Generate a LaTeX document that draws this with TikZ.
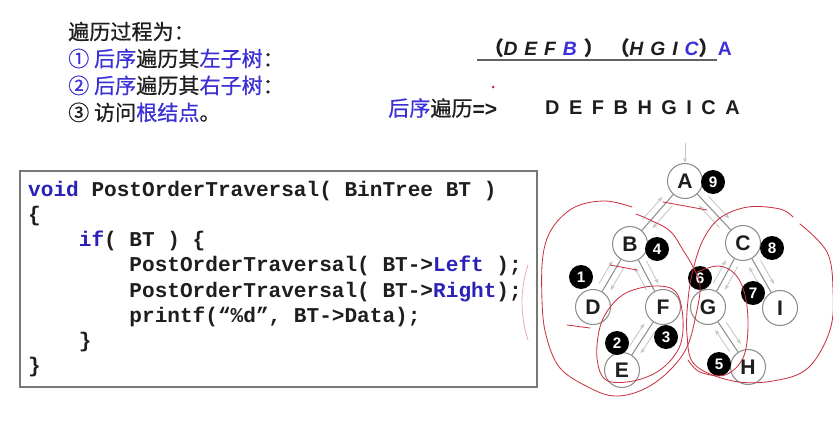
\documentclass[tikz,border=0pt]{standalone}
\usepackage{fontspec}
\setmainfont{Liberation Sans}
\setmonofont{Liberation Mono}
\newfontfamily\cjk[FakeBold=0.6]{Noto Sans CJK SC}
\usetikzlibrary{arrows.meta,calc}
\definecolor{hint}{HTML}{3B2FD6}
\definecolor{kw}{HTML}{2A22B8}
\definecolor{ink}{HTML}{1E1E1E}
\definecolor{wire}{HTML}{8E8E8E}
\definecolor{walkgray}{HTML}{C4C4C4}
\definecolor{penred}{HTML}{C8303F}
\newcommand\ind{\hphantom{0000}}
% one arrow down along each edge, one back up on the other side
\newcommand\walkpair[2]{%
  \draw[walk] ($(#1)!0.32!(#2)!0.2cm!90:(#2)$) -- ($(#1)!0.68!(#2)!0.2cm!90:(#2)$);
  \draw[walk] ($(#2)!0.32!(#1)!0.2cm!90:(#1)$) -- ($(#2)!0.68!(#1)!0.2cm!90:(#1)$);}

\begin{document}
\begin{tikzpicture}[
  x=0.03cm,y=-0.03cm,
  every node/.style={inner sep=0pt,text=ink},
  tnode/.style={circle,draw=wire,fill=white,line width=0.9pt,minimum size=1.05cm,font=\fontsize{18}{18}\selectfont\bfseries},
  stepno/.style={circle,fill=black,minimum size=0.72cm,text=white,font=\fontsize{13}{13}\selectfont\bfseries},
  link/.style={draw=wire,line width=0.9pt},
  walk/.style={-{Stealth[length=1.6mm]},draw=walkgray,line width=0.7pt},
  pen/.style={draw=penred,line width=0.7pt,line cap=round},
  code/.style={align=left,font=\ttfamily\bfseries\fontsize{18}{21.5}\selectfont}
]
\useasboundingbox (0,0) rectangle (833,448);

% left: the three steps
\node[anchor=west,align=left,font=\cjk\fontsize{18}{23}\selectfont] (steps) at (68,72) {%
遍历过程为：\\
\textcolor{hint}{① 后序}遍历其\textcolor{hint}{左子树}：\\
\textcolor{hint}{② 后序}遍历其\textcolor{hint}{右子树}：\\
③ 访问\textcolor{hint}{根结点}。};

% right: grouping and result
\node[anchor=base west,font=\bfseries\itshape\fontsize{16.5}{16.5}\selectfont\addfontfeature{LetterSpace=8}] (split) at (484,55)
  {{\cjk （}D E F \textcolor{hint}{B} {\cjk ）}\ {\cjk （}H G I \textcolor{hint}{C}{\cjk ）}\textcolor{hint}{\upshape A}};
\draw[draw=ink!70,line width=0.9pt] (477,60) -- (717,60);
\fill[penred] (493,87) circle (1.5);
\node[anchor=west,font=\fontsize{18}{18}\selectfont] (postlbl) at (388,108)
  {{\cjk\textcolor{hint}{后序}遍历}\textbf{=>}};
\node[anchor=west,font=\bfseries\fontsize{17}{17}\selectfont\addfontfeature{LetterSpace=20}] (seq) at (545,108)
  {D E F B H G I C A};

% code box
\draw[draw=ink!60,line width=1.1pt] (20,171) rectangle (537,387);
\node[code,anchor=west] (src) at (28,279) {%
\textcolor{kw}{void} PostOrderTraversal( BinTree BT )\\
\{\\
\ind\textcolor{kw}{if}( BT ) \{\\
\ind\ind PostOrderTraversal( BT->\textcolor{kw}{Left} );\\
\ind\ind PostOrderTraversal( BT->\textcolor{kw}{Right});\\
\ind\ind printf(“\%d”, BT->Data);\\
\ind\}\\
\}};

% tree
\node[tnode] (A) at (685,181) {A};
\node[tnode] (B) at (630,244) {B};
\node[tnode] (C) at (743,243) {C};
\node[tnode] (D) at (593,307) {D};
\node[tnode] (F) at (663,307) {F};
\node[tnode] (E) at (622,370) {E};
\node[tnode] (G) at (708,307) {G};
\node[tnode] (I) at (780,308) {I};
\node[tnode] (H) at (748,367) {H};
\draw[link] (A) -- (B);
\draw[link] (A) -- (C);
\draw[link] (B) -- (D);
\draw[link] (B) -- (F);
\draw[link] (F) -- (E);
\draw[link] (C) -- (G);
\draw[link] (C) -- (I);
\draw[link] (G) -- (H);
\walkpair{A}{B}
\walkpair{A}{C}
\walkpair{B}{D}
\walkpair{B}{F}
\walkpair{F}{E}
\walkpair{C}{G}
\walkpair{C}{I}
\walkpair{G}{H}
\coordinate (entry) at (685,143);
\draw[walk] (entry) -- (A);

% visiting order
\node[stepno] (s1) at (581,277) {1};
\node[stepno] (s2) at (617,343) {2};
\node[stepno] (s3) at (666,337) {3};
\node[stepno] (s4) at (657,249) {4};
\node[stepno] (s5) at (719,364) {5};
\node[stepno] (s6) at (700,278) {6};
\node[stepno] (s7) at (753,293) {7};
\node[stepno] (s8) at (772,248) {8};
\node[stepno] (s9) at (713,182) {9};

% hand marks
\draw[pen] plot[smooth,tension=0.6] coordinates {(632,207) (605,201) (575,207) (553,227) (543,255) (542,300) (546,335) (560,368) (590,388) (615,396) (642,390) (667,373) (687,347) (697,310) (700,285) (693,267) (683,250) (670,231) (650,220) (636,214)};
\draw[pen] plot[smooth,tension=0.6] coordinates {(793,217) (780,209) (748,207) (720,218) (703,240) (693,270) (688,300) (687,335) (695,365) (733,381) (773,381) (808,368) (830,330) (833,290) (827,252) (800,224)};
\draw[pen] plot[smooth cycle,tension=0.6] coordinates {(611,306) (628,292) (655,286) (676,292) (683,320) (679,348) (660,370) (633,381) (606,380) (597,358) (600,327)};
\draw[pen] plot[smooth,tension=0.6] coordinates {(697,272) (718,266) (735,274) (745,295) (748,327) (743,358) (725,375) (700,372) (688,360)};
\draw[pen] (567,325) -- (590,328);
\draw[pen] (610,265) -- (637,270);
\draw[pen] (663,202) -- (707,210);
\draw[pen,opacity=0.4] (528,265) .. controls (520,290) and (520,315) .. (528,340);
\end{tikzpicture}
\end{document}
